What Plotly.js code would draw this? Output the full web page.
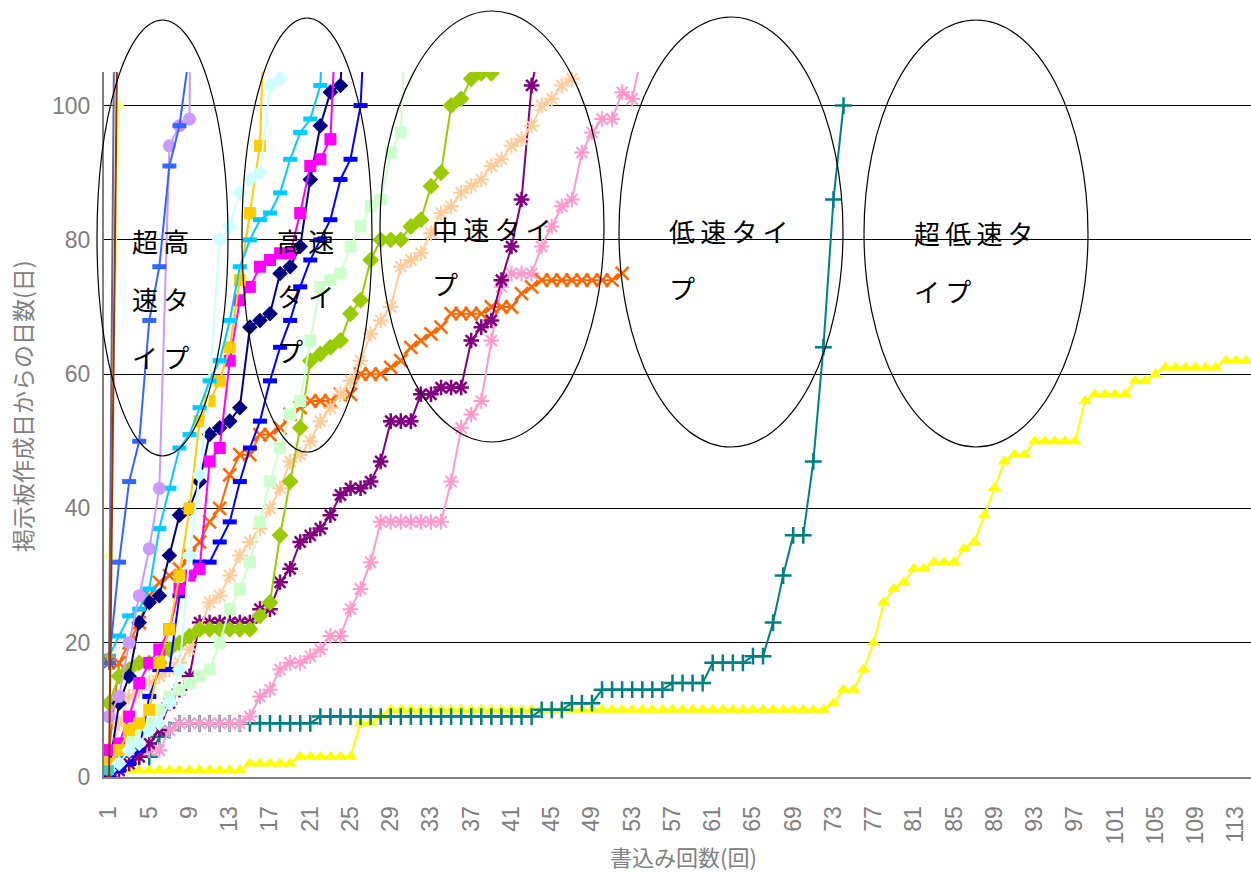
<!DOCTYPE html>
<html><head><meta charset="utf-8">
<script src="https://cdn.plot.ly/plotly-3.0.1.min.js"></script>
<style>body{margin:0;background:#fff}#chart{width:1251px;height:872px}</style>
</head><body><div id="chart"></div>
<script>
// ---- data (y = 掲示板作成日からの日数, index 0 => 書込み回数 1) ----
var maroon     = [0, 135];
var slate      = [17, 200];
var paleYellow = [33, 100];
var orangeTri  = [18];
var turq       = [1];
var royal      = [17, 32, 44, 50, 68, 76, 91, 97, 108];
var lavender   = [9, 12, 20, 27, 34, 43, 94, 97, 98, 300];
var sky        = [18, 21, 24, 25, 28, 37, 43, 49, 51, 55, 59, 62, 68, 76, 80, 83, 84, 87, 92, 96, 98, 103, 140];
var lightCyan  = [1, 2, 4, 5, 7, 8, 11, 16, 33, 45, 59, 80, 82, 87, 89, 90, 103, 104, 106];
var gold       = [2, 4, 7, 8, 10, 17, 22, 30, 40, 53, 56, 59, 64, 74, 84, 94, 140];
var magenta    = [4, 5, 9, 14, 17, 19, 22, 28, 30, 31, 47, 49, 62, 71, 73, 76, 77, 78, 78, 84, 91, 92, 95, 127];
var navy       = [1, 11, 15, 23, 26, 27, 33, 39, 40, 44, 51, 52, 53, 55, 67, 68, 69, 75, 76, 79, 89, 97, 102, 103, 130];
var blue       = [0, 1, 2, 4, 12, 16, 16, 27, 30, 32, 32, 35, 38, 44, 49, 53, 59, 64, 68, 73, 77, 80, 83, 89, 92, 100, 130];
var lightGreen = [2, 4, 6, 7, 8, 10, 12, 13, 14, 15, 16, 20, 25, 28, 32, 38, 44, 49, 54, 56, 65, 73, 74, 75, 79, 82, 85, 86, 93, 96, 130];
var yellowGreen= [11, 15, 16, 17, 17, 17, 19, 20, 21, 22, 22, 22, 22, 22, 22, 24, 26, 36, 44, 52, 62, 63, 64, 65, 69, 71, 77, 80, 80, 80, 82, 83, 88, 90, 100, 101, 104, 104.8, 104.8];
var peach      = [3, 8, 12, 13, 14, 15, 16, 17, 19, 22, 26, 27, 30, 33, 35, 37, 40, 43, 47, 48, 50, 53, 55, 57, 59, 62, 66, 68, 70, 76, 77, 78, 81, 84, 85, 87, 88, 89, 91, 92, 94, 95, 97, 100, 101, 103, 104];
var purple     = [0, 1, 2, 3, 5, 7, 11, 13, 15, 23, 23, 23, 23, 23, 23, 25, 25, 29, 31, 35, 36, 37, 39, 42, 43, 43, 44, 47, 53, 53, 53, 57, 57, 58, 58, 58, 65, 67, 68, 74, 79, 86, 103, 110];
var orange     = [4, 17, 20, 23, 27, 29, 30, 31, 33, 35, 38, 40, 45, 48, 48, 51, 51, 52, 54, 55, 56, 56, 56, 57, 57, 60, 60, 60, 61, 62, 64, 65, 66, 67, 69, 69, 69, 69, 70, 70, 70, 72, 73, 74, 74, 74, 74, 74, 74, 74, 74, 75];
var pink       = [4, 4, 4, 4, 4, 4, 7, 8, 8, 8, 8, 8, 8, 8, 9, 12, 13, 16, 17, 17, 18, 19, 21, 21, 25, 28, 32, 38, 38, 38, 38, 38, 38, 38, 44, 52, 54, 56, 65, 73, 75, 75, 75, 79, 82, 85, 86, 93, 96, 98, 98, 102, 101, 108];
var teal       = [0, 3, 3, 3, 3, 6, 7, 8, 8, 8, 8, 8, 8, 8, 8, 8, 8, 8, 8, 8, 8,
                  9, 9, 9, 9, 9, 9, 9, 9, 9, 9, 9, 9, 9, 9, 9, 9, 9, 9, 9, 9, 9, 9,
                  10, 10, 10, 11, 11, 11, 13, 13, 13, 13, 13, 13, 13, 14, 14, 14, 14,
                  17, 17, 17, 17, 18, 18, 23, 30, 36, 36, 47, 64, 86, 100];
var yellow     = [0, 1, 1, 1, 1, 1, 1, 1, 1, 1, 1, 1, 1, 1, 2, 2, 2, 2, 2, 3, 3, 3, 3, 3, 3,
                  8, 8, 9, 10, 10, 10, 10, 10, 10, 10, 10, 10, 10, 10, 10, 10, 10, 10, 10, 10,
                  10, 10, 10, 10, 10, 10, 10, 10, 10, 10, 10, 10, 10, 10, 10, 10, 10, 10, 10, 10,
                  10, 10, 10, 10, 10, 10, 10, 11, 13, 13, 16, 20, 26, 28, 29, 31, 31, 32, 32, 32,
                  34, 35, 39, 43, 47, 48, 48, 50, 50, 50, 50, 50, 56, 57, 57, 57, 57, 59, 59, 60,
                  61, 61, 61, 61, 61, 61, 62, 62, 62];
var xTickVals = [1,5,9,13,17,21,25,29,33,37,41,45,49,53,57,61,65,69,73,77,81,85,89,93,97,101,105,109,113];
var yTickVals = [0, 20, 40, 60, 80, 100];
var typeLabels = [["超高","速タ","イプ"],["高速","タイ","プ"],["中速タイ","プ"],["低速タイ","プ"],["超低速タ","イプ"]];
var xTitle = "書込み回数(回)";
var yTitle = "掲示板作成日からの日数(日)";

// ---- layout helpers (pixel -> paper) ----
var L = 104, R = 1251, T = 72, B = 777;
function px(x){ return (x - L) / (R - L); }
function py(y){ return (B - y) / (B - T); }

function series(vals, color, symbol, size, opts){
  opts = opts || {};
  var xs = vals.map(function(_, i){ return i + 1; });
  var open = symbol.indexOf('open') >= 0 || symbol.indexOf('line') === 0;
  return {
    x: xs, y: vals, type: 'scatter', mode: 'lines+markers',
    line: {color: color, width: opts.lw || 2},
    marker: {symbol: symbol, size: size, color: color,
             line: {color: color, width: open ? (opts.mlw || 2) : 0}},
    cliponaxis: true, hoverinfo: 'x+y', showlegend: false
  };
}

var data = [
  series(yellow, '#FFFF00', 'triangle-up', 12),
  series(teal, '#008080', 'cross-thin-open', 12, {mlw: 2.5}),
  series(pink, '#FF99CC', 'asterisk-open', 13),
  series(orange, '#FF6600', 'x-thin-open', 13, {mlw: 2.5}),
  series(purple, '#800080', 'asterisk-open', 13, {mlw: 2.5}),
  series(peach, '#FFCC99', 'asterisk-open', 13),
  series(yellowGreen, '#99CC00', 'diamond', 13),
  series(lightGreen, '#CCFFCC', 'square', 12),
  series(blue, '#0000FF', 'line-ew-open', 10, {mlw: 5}),
  series(navy, '#000080', 'diamond', 12),
  series(magenta, '#FF00FF', 'square', 12),
  series(gold, '#FFCC00', 'square', 12),
  series(lightCyan, '#CCFFFF', 'diamond', 12),
  series(sky, '#00CCFF', 'line-ew-open', 10, {mlw: 5}),
  series(lavender, '#CC99FF', 'circle', 13),
  series(royal, '#3366FF', 'line-ew-open', 10, {mlw: 5}),
  series(turq, '#33CCCC', 'square', 10),
  series(orangeTri, '#FF9900', 'triangle-up', 12),
  series(paleYellow, '#FFFF99', 'triangle-up', 12),
  series(slate, '#666699', 'asterisk-open', 12),
  series(maroon, '#993300', 'circle', 5)
];

var ellipses = [[97,228,20,456],[242,372,18,452],[380,604,11,442],[619,843,17,447],[864,1088,20,447]];
var shapes = ellipses.map(function(e){
  return {type:'circle', xref:'paper', yref:'paper', x0:px(e[0]), x1:px(e[1]), y0:py(e[3]), y1:py(e[2]),
          line:{color:'#000', width:1.2}, layer:'above'};
});

var labelPos = [[130,[240,298,356]],[275,[240,295,350]],[430,[228,283]],[667,[230,287]],[912,[232,290]]];
var annotations = [];
typeLabels.forEach(function(lines, k){
  lines.forEach(function(t, j){
    annotations.push({xref:'paper', yref:'paper', x:px(labelPos[k][0]), y:py(labelPos[k][1][j]),
      xanchor:'left', yanchor:'middle', showarrow:false,
      text: t.split('').join('\u2009'),
      font:{family:'Noto Sans CJK JP', size:26, color:'#000'}});
  });
});
annotations.push({xref:'paper', yref:'paper', x:px(683), y:py(856), xanchor:'center', yanchor:'middle',
  showarrow:false, text:xTitle, font:{family:'Noto Sans CJK JP', size:22, color:'#808080'}});
annotations.push({xref:'paper', yref:'paper', x:px(22), y:py(406), xanchor:'center', yanchor:'middle',
  showarrow:false, textangle:-90, text:yTitle, font:{family:'Noto Sans CJK JP', size:23, color:'#808080'}});

var tickFont = {family: 'Liberation Sans Narrow, Liberation Sans, Arial', size: 23, color: '#808080'};
var layout = {
  width: 1251, height: 872,
  margin: {l: L, r: 1251 - R, t: T, b: 872 - B, pad: 0},
  paper_bgcolor: '#fff', plot_bgcolor: '#fff',
  font: {family: 'Noto Sans CJK JP', color: '#808080'},
  xaxis: {range: [0.5, 114.5], tickmode: 'array', tickvals: xTickVals, ticktext: xTickVals.map(String),
          tickangle: -90, showgrid: false, zeroline: false, showline: true, linecolor: '#808080', linewidth: 2,
          ticks: '', ticklabelstandoff: 18, tickfont: tickFont},
  yaxis: {range: [0, 105], tickmode: 'array', tickvals: yTickVals, showgrid: true, gridcolor: '#000', gridwidth: 1,
          zeroline: false, showline: true, linecolor: '#808080', linewidth: 2, ticks: '', ticklabelstandoff: 7,
          tickfont: tickFont},
  shapes: shapes,
  annotations: annotations
};

Plotly.newPlot('chart', data, layout, {displayModeBar: false, staticPlot: true});
</script></body></html>
